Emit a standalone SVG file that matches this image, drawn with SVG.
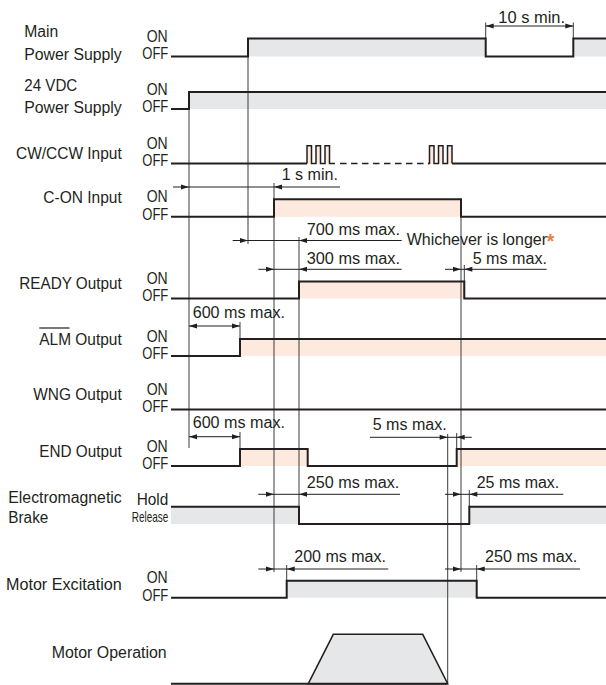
<svg xmlns="http://www.w3.org/2000/svg" xmlns:xlink="http://www.w3.org/1999/xlink" width="606" height="685" viewBox="0 0 606 685">
<style>
text{font-family:"Liberation Sans",Arial,sans-serif;font-size:16px;fill:#231f20}
.sm{font-size:14.5px}
.sig{fill:none;stroke:#231f20;stroke-width:2}
.pul{fill:none;stroke:#231f20;stroke-width:1.5}
.dash{fill:none;stroke:#231f20;stroke-width:1.5;stroke-dasharray:6.5 4.5}
.ext{fill:none;stroke:#3c3c3c;stroke-width:1}
.dim{fill:none;stroke:#231f20;stroke-width:1}
.gray{fill:#e6e7e8}
.pink{fill:#fde9dd}
.ast{fill:#f07a3c;font-weight:bold;font-size:20px}
</style>
<defs>
<path id="ah" d="M0,0 L-8,-2.5 L-8,2.5 Z" fill="#231f20"/>
</defs>
<rect width="606" height="685" fill="#fff"/>

<g id="fills">
<rect class="gray" x="248" y="38.5" width="237.7" height="18"/>
<rect class="gray" x="573.3" y="38.5" width="32.7" height="18"/>
<rect class="gray" x="189" y="92" width="417" height="17"/>
<rect class="pink" x="307" y="145.7" width="4.5" height="17.8"/>
<rect class="pink" x="316" y="145.7" width="4.5" height="17.8"/>
<rect class="pink" x="325" y="145.7" width="4.5" height="17.8"/>
<rect class="pink" x="429.5" y="145.7" width="4.5" height="17.8"/>
<rect class="pink" x="438.5" y="145.7" width="4.5" height="17.8"/>
<rect class="pink" x="447.5" y="145.7" width="4.5" height="17.8"/>
<rect class="pink" x="274" y="199.3" width="187" height="17.4"/>
<rect class="pink" x="299" y="281.5" width="165.3" height="17"/>
<rect class="pink" x="240" y="339" width="366" height="17"/>
<rect class="pink" x="240" y="449" width="67.7" height="17"/>
<rect class="pink" x="456.7" y="449" width="149.3" height="17"/>
<rect class="gray" x="171" y="506.7" width="128" height="17.3"/>
<rect class="gray" x="469.3" y="506.7" width="136.7" height="17.3"/>
<rect class="gray" x="286.7" y="580.7" width="190" height="17"/>
</g>

<g id="connectors">
<path class="ext" d="M189,109V448 M248,56.5V244 M274,183V572 M299,237V524 M461,199V572 M447.7,434V683.7 M464.3,265V298.5 M456.7,433V449 M469.3,490V506.7 M476.7,565V580.7 M286.7,565V580.7 M240,322V339 M240,432V449 M485.7,22.5V38.5 M573.3,22.5V38.5"/>
<path class="dim" d="M485.7,26H573.3 M173,187H340 M232.7,240.5H401.7 M258.3,269.3H401.7 M445,269.3H546.7 M189,326H240 M189,436.7H240 M370,437.3H471.7 M258.3,494.3H400 M445,494.3H563.3 M258.3,569H388.3 M445,569H580"/>
<use xlink:href="#ah" transform="translate(485.7,26) scale(-1,1)"/>
<use xlink:href="#ah" transform="translate(573.3,26)"/>
<use xlink:href="#ah" transform="translate(189,187)"/>
<use xlink:href="#ah" transform="translate(274,187) scale(-1,1)"/>
<use xlink:href="#ah" transform="translate(248,240.5)"/>
<use xlink:href="#ah" transform="translate(299,240.5) scale(-1,1)"/>
<use xlink:href="#ah" transform="translate(274,269.3)"/>
<use xlink:href="#ah" transform="translate(299,269.3) scale(-1,1)"/>
<use xlink:href="#ah" transform="translate(461,269.3)"/>
<use xlink:href="#ah" transform="translate(464.3,269.3) scale(-1,1)"/>
<use xlink:href="#ah" transform="translate(189,326) scale(-1,1)"/>
<use xlink:href="#ah" transform="translate(240,326)"/>
<use xlink:href="#ah" transform="translate(189,436.7) scale(-1,1)"/>
<use xlink:href="#ah" transform="translate(240,436.7)"/>
<use xlink:href="#ah" transform="translate(447.7,437.3)"/>
<use xlink:href="#ah" transform="translate(456.7,437.3) scale(-1,1)"/>
<use xlink:href="#ah" transform="translate(274,494.3)"/>
<use xlink:href="#ah" transform="translate(299,494.3) scale(-1,1)"/>
<use xlink:href="#ah" transform="translate(461,494.3)"/>
<use xlink:href="#ah" transform="translate(469.3,494.3) scale(-1,1)"/>
<use xlink:href="#ah" transform="translate(274,569)"/>
<use xlink:href="#ah" transform="translate(286.7,569) scale(-1,1)"/>
<use xlink:href="#ah" transform="translate(461,569)"/>
<use xlink:href="#ah" transform="translate(476.7,569) scale(-1,1)"/>
</g>

<g id="main-power">
<text x="24.3" y="37.3" textLength="34" lengthAdjust="spacingAndGlyphs">Main</text>
<text x="24.3" y="60" textLength="97.4" lengthAdjust="spacingAndGlyphs">Power Supply</text>
<text x="146.7" y="42" textLength="21" lengthAdjust="spacingAndGlyphs">ON</text>
<text x="142.3" y="59.3" textLength="26" lengthAdjust="spacingAndGlyphs">OFF</text>
<path class="sig" d="M171,56.5H248V38.5H485.7V56.5H573.3V38.5H606"/>
<text x="498.3" y="23" textLength="66.7" lengthAdjust="spacingAndGlyphs">10 s min.</text>
</g>

<g id="vdc24-power">
<text x="24.3" y="90.7" textLength="53" lengthAdjust="spacingAndGlyphs">24 VDC</text>
<text x="24.3" y="112.7" textLength="97.4" lengthAdjust="spacingAndGlyphs">Power Supply</text>
<text x="146.7" y="94.5" textLength="21" lengthAdjust="spacingAndGlyphs">ON</text>
<text x="142.3" y="111.8" textLength="26" lengthAdjust="spacingAndGlyphs">OFF</text>
<path class="sig" d="M171,109H189V92H606"/>
</g>

<g id="cw-ccw-input">
<text x="16" y="159.3" textLength="105.7" lengthAdjust="spacingAndGlyphs">CW/CCW Input</text>
<text x="146.7" y="149" textLength="21" lengthAdjust="spacingAndGlyphs">ON</text>
<text x="142.3" y="166.3" textLength="26" lengthAdjust="spacingAndGlyphs">OFF</text>
<path class="sig" d="M171,163.5H307"/>
<path class="pul" d="M307,163.5V145.7H311.5V163.5H316V145.7H320.5V163.5H325V145.7H329.5V163.5H335"/>
<path class="dash" d="M340,163.5H429"/>
<path class="pul" d="M428,163.5H429.5V145.7H434V163.5H438.5V145.7H443V163.5H447.5V145.7H452V163.5"/>
<path class="sig" d="M452,163.5H606"/>
<text x="281.7" y="180" textLength="56.3" lengthAdjust="spacingAndGlyphs">1 s min.</text>
</g>

<g id="c-on-input">
<text x="43.3" y="203.3" textLength="78.4" lengthAdjust="spacingAndGlyphs">C-ON Input</text>
<text x="146.7" y="202.2" textLength="21" lengthAdjust="spacingAndGlyphs">ON</text>
<text x="142.3" y="219.5" textLength="26" lengthAdjust="spacingAndGlyphs">OFF</text>
<path class="sig" d="M171,216.7H274V199.3H461V216.7H606"/>
<text x="306.7" y="235" textLength="93.3" lengthAdjust="spacingAndGlyphs">700 ms max.</text>
<text x="406.7" y="245" textLength="140.3" lengthAdjust="spacingAndGlyphs">Whichever is longer</text>
<text class="ast" x="546.5" y="248">*</text>
<text x="306.7" y="264" textLength="93.3" lengthAdjust="spacingAndGlyphs">300 ms max.</text>
<text x="472.7" y="264" textLength="74.3" lengthAdjust="spacingAndGlyphs">5 ms max.</text>
</g>

<g id="ready-output">
<text x="19.3" y="289.3" textLength="102.4" lengthAdjust="spacingAndGlyphs">READY Output</text>
<text x="146.7" y="284" textLength="21" lengthAdjust="spacingAndGlyphs">ON</text>
<text x="142.3" y="301.3" textLength="26" lengthAdjust="spacingAndGlyphs">OFF</text>
<path class="sig" d="M171,298.5H299V281.5H464.3V298.5H606"/>
<text x="192.7" y="318.3" textLength="92.3" lengthAdjust="spacingAndGlyphs">600 ms max.</text>
</g>

<g id="alm-output">
<text x="39.3" y="345" textLength="82.4" lengthAdjust="spacingAndGlyphs">ALM Output</text>
<line x1="39.3" y1="328" x2="69.5" y2="328" stroke="#231f20" stroke-width="1.2"/>
<text x="146.7" y="341.5" textLength="21" lengthAdjust="spacingAndGlyphs">ON</text>
<text x="142.3" y="358.8" textLength="26" lengthAdjust="spacingAndGlyphs">OFF</text>
<path class="sig" d="M171,356H240V339H606"/>
</g>

<g id="wng-output">
<text x="33.3" y="400" textLength="88.4" lengthAdjust="spacingAndGlyphs">WNG Output</text>
<text x="146.7" y="395" textLength="21" lengthAdjust="spacingAndGlyphs">ON</text>
<text x="142.3" y="412.3" textLength="26" lengthAdjust="spacingAndGlyphs">OFF</text>
<path class="sig" d="M171,409.5H606"/>
<text x="192.7" y="428.3" textLength="92.3" lengthAdjust="spacingAndGlyphs">600 ms max.</text>
<text x="372.7" y="430" textLength="74" lengthAdjust="spacingAndGlyphs">5 ms max.</text>
</g>

<g id="end-output">
<text x="39.3" y="456.7" textLength="82.4" lengthAdjust="spacingAndGlyphs">END Output</text>
<text x="146.7" y="451.5" textLength="21" lengthAdjust="spacingAndGlyphs">ON</text>
<text x="142.3" y="468.8" textLength="26" lengthAdjust="spacingAndGlyphs">OFF</text>
<path class="sig" d="M171,466H240V449H307.7V466H456.7V449H606"/>
<text x="306.7" y="487.7" textLength="92.6" lengthAdjust="spacingAndGlyphs">250 ms max.</text>
<text x="476.7" y="487.7" textLength="82.6" lengthAdjust="spacingAndGlyphs">25 ms max.</text>
</g>

<g id="brake">
<text x="8.3" y="502.7" textLength="113.4" lengthAdjust="spacingAndGlyphs">Electromagnetic</text>
<text x="8.3" y="523.3" textLength="40" lengthAdjust="spacingAndGlyphs">Brake</text>
<text x="136.7" y="505" textLength="31.6" lengthAdjust="spacingAndGlyphs">Hold</text>
<text class="sm" x="131.7" y="521.7" textLength="36.6" lengthAdjust="spacingAndGlyphs">Release</text>
<path class="sig" d="M171,506.7H299V524H469.3V506.7H606"/>
<text x="294.3" y="561.7" textLength="91.7" lengthAdjust="spacingAndGlyphs">200 ms max.</text>
<text x="485" y="561.7" textLength="92.3" lengthAdjust="spacingAndGlyphs">250 ms max.</text>
</g>

<g id="motor-excitation">
<text x="6" y="590" textLength="115.7" lengthAdjust="spacingAndGlyphs">Motor Excitation</text>
<text x="146.7" y="583.2" textLength="21" lengthAdjust="spacingAndGlyphs">ON</text>
<text x="142.3" y="600.5" textLength="26" lengthAdjust="spacingAndGlyphs">OFF</text>
<path class="sig" d="M171,597.7H286.7V580.7H476.7V597.7H606"/>
</g>

<g id="motor-operation">
<text x="51.7" y="658" textLength="115" lengthAdjust="spacingAndGlyphs">Motor Operation</text>
<path d="M308.3,683.7L333.3,634.3H422.7L447.7,683.7Z" fill="#e6e7e8" stroke="#231f20" stroke-width="1.5"/>
<path class="sig" d="M171,683.7H447.7"/>
</g>
</svg>
